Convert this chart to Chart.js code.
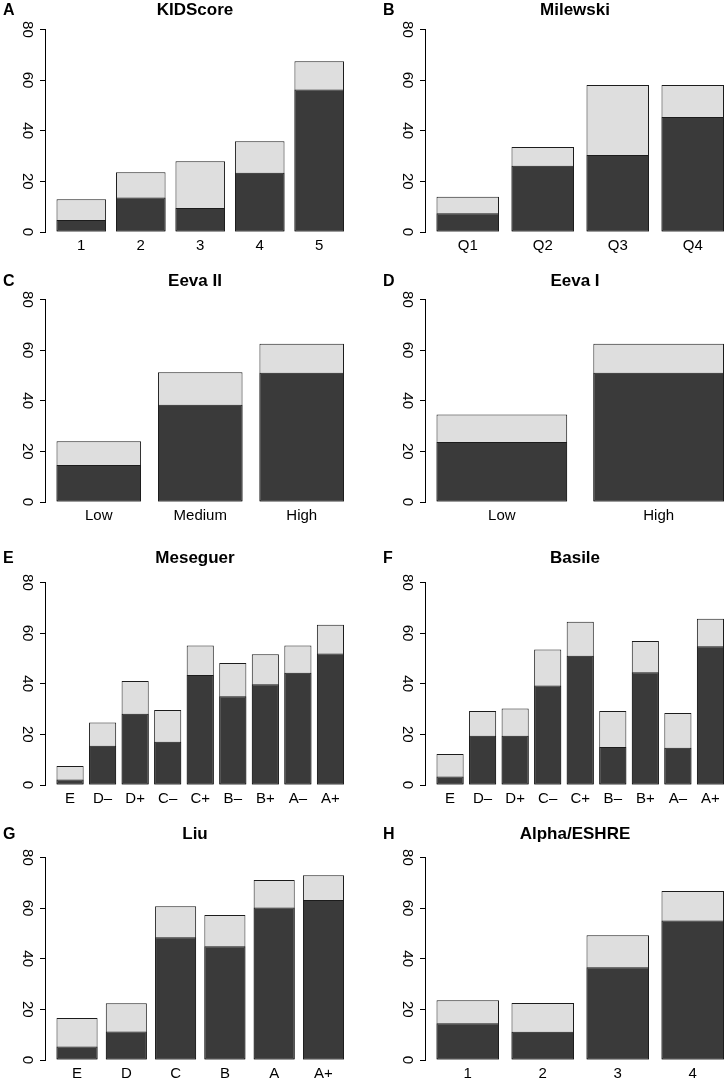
<!DOCTYPE html>
<html>
<head>
<meta charset="utf-8">
<title>Embryo scoring systems</title>
<script src="https://cdn.jsdelivr.net/npm/chart.js@4.4.1/dist/chart.umd.min.js"></script>
<style>
    html, body { margin: 0; padding: 0; background: #fff; }
    #figure { position: relative; width: 725px; height: 1082px; overflow: hidden; }
    .panel { position: absolute; width: 380px; }
    .tag, .title {
        position: absolute; top: 0; color: #000;
        font-family: "Liberation Sans", Arial, Helvetica, sans-serif;
        font-weight: bold; line-height: 20.4px; white-space: nowrap;
    }
    .tag { left: 3px; font-size: 16px; }
    .title { left: 0; width: 390px; text-align: center; font-size: 17px; }
</style>
</head>
<body>
<div id="figure"></div>
<script>
// Values (percent)
const kidscoreLabels = ['1', '2', '3', '4', '5'];
const kidscoreTotal = [12.9, 23.6, 27.9, 35.8, 67.4];
const kidscoreSub = [4.7, 13.6, 9.5, 23.4, 56.3];

const milewskiLabels = ['Q1', 'Q2', 'Q3', 'Q4'];
const milewskiTotal = [13.9, 33.6, 58.0, 58.0];
const milewskiSub = [7.4, 26.2, 30.4, 45.4];

const eeva2Labels = ['Low', 'Medium', 'High'];
const eeva2Total = [24.0, 51.2, 62.5];
const eeva2Sub = [14.6, 38.4, 51.0];

const eeva1Labels = ['Low', 'High'];
const eeva1Total = [34.6, 62.5];
const eeva1Sub = [23.7, 51.0];

const meseguerLabels = ['E', 'D–', 'D+', 'C–', 'C+', 'B–', 'B+', 'A–', 'A+'];
const meseguerTotal = [7.5, 24.7, 41.1, 29.6, 55.1, 48.2, 51.6, 55.1, 63.3];
const meseguerSub = [2.2, 15.5, 28.1, 17.1, 43.4, 35.0, 39.8, 44.3, 51.9];

const basileLabels = ['E', 'D–', 'D+', 'C–', 'C+', 'B–', 'B+', 'A–', 'A+'];
const basileTotal = [12.2, 29.2, 30.2, 53.5, 64.5, 29.2, 56.9, 28.4, 65.6];
const basileSub = [3.4, 19.4, 19.4, 39.3, 51.0, 15.0, 44.5, 14.7, 54.8];

const liuLabels = ['E', 'D', 'C', 'B', 'A', 'A+'];
const liuTotal = [16.6, 22.4, 60.7, 57.3, 71.1, 73.0];
const liuSub = [5.3, 11.3, 48.5, 44.9, 60.2, 63.2];

const alphaLabels = ['1', '2', '3', '4'];
const alphaTotal = [23.6, 22.5, 49.3, 66.7];
const alphaSub = [14.5, 11.2, 36.6, 55.1];

const yTicks = [0, 20, 40, 60, 80];

const panels = [
    { tag: 'A', title: 'KIDScore', labels: kidscoreLabels, total: kidscoreTotal, sub: kidscoreSub },
    { tag: 'B', title: 'Milewski', labels: milewskiLabels, total: milewskiTotal, sub: milewskiSub },
    { tag: 'C', title: 'Eeva II', labels: eeva2Labels, total: eeva2Total, sub: eeva2Sub },
    { tag: 'D', title: 'Eeva I', labels: eeva1Labels, total: eeva1Total, sub: eeva1Sub },
    { tag: 'E', title: 'Meseguer', labels: meseguerLabels, total: meseguerTotal, sub: meseguerSub },
    { tag: 'F', title: 'Basile', labels: basileLabels, total: basileTotal, sub: basileSub },
    { tag: 'G', title: 'Liu', labels: liuLabels, total: liuTotal, sub: liuSub },
    { tag: 'H', title: 'Alpha/ESHRE', labels: alphaLabels, total: alphaTotal, sub: alphaSub }
];

// Layout of the grid
const columnLeft = [0, 380];
const rowTop = [0, 271, 548, 824];
const titleGap = [9, 8, 14, 13];

const FONT = '"Liberation Sans", Arial, Helvetica, sans-serif';
const LIGHT = '#dedede';
const DARK = '#3a3a3a';
const EDGE = '#1c1c1c';

// barplot geometry: bar width 1, space 0.2
const barMid = i => 0.7 + 1.2 * i;

function xRange(n) {
    const lo = 0.2, hi = 1.2 * n;
    const ext = 0.04 * (hi - lo);
    return { min: lo - ext, max: hi + ext };
}

function addText(box, cls, text) {
    const el = document.createElement('div');
    el.className = cls;
    el.textContent = text;
    box.appendChild(el);
}

function buildPanel(p, idx) {
    const row = Math.floor(idx / 2);
    const col = idx % 2;
    const topPad = 20.4 + titleGap[row];
    const height = Math.round(topPad + 203 + 30);

    const box = document.createElement('div');
    box.className = 'panel';
    box.style.left = columnLeft[col] + 'px';
    box.style.top = rowTop[row] + 'px';
    box.style.height = height + 'px';

    const canvas = document.createElement('canvas');
    box.appendChild(canvas);
    addText(box, 'tag', p.tag);
    addText(box, 'title', p.title);
    document.getElementById('figure').appendChild(box);

    const range = xRange(p.labels.length);
    const tickFont = { family: FONT, size: 15 };

    new Chart(canvas, {
        type: 'bar',
        data: {
            datasets: [
                {
                    label: 'subset',
                    data: p.sub.map((v, i) => ({ x: barMid(i), y: v })),
                    backgroundColor: DARK,
                    order: 0
                },
                {
                    label: 'total',
                    data: p.total.map((v, i) => ({ x: barMid(i), y: v })),
                    backgroundColor: LIGHT,
                    order: 1
                }
            ]
        },
        options: {
            responsive: true,
            maintainAspectRatio: false,
            animation: false,
            layout: { padding: { left: 0, right: 24.5, top: topPad, bottom: 0 } },
            datasets: {
                bar: {
                    grouped: false,
                    categoryPercentage: 1,
                    barPercentage: 1 / 1.2,
                    borderColor: EDGE,
                    borderWidth: 1,
                    borderSkipped: false
                }
            },
            plugins: {
                legend: { display: false },
                tooltip: { enabled: false },
                title: { display: false }
            },
            scales: {
                x: {
                    type: 'linear',
                    min: range.min,
                    max: range.max,
                    bounds: 'data',
                    offset: false,
                    afterBuildTicks: axis => {
                        axis.ticks = p.labels.map((_, i) => ({ value: barMid(i) }));
                    },
                    afterFit: axis => { axis.height = 30; },
                    grid: { display: false, drawTicks: false, offset: false },
                    border: { display: false },
                    ticks: {
                        autoSkip: false,
                        maxRotation: 0,
                        padding: 5,
                        color: '#000',
                        font: tickFont,
                        callback: (v, i) => p.labels[i]
                    }
                },
                y: {
                    min: 0,
                    max: 80,
                    afterBuildTicks: axis => {
                        axis.ticks = yTicks.map(v => ({ value: v }));
                    },
                    afterFit: axis => { axis.width = 45; },
                    grid: { drawOnChartArea: false, drawTicks: true, tickLength: 5, color: '#000' },
                    border: { display: true, color: '#000', width: 1 },
                    ticks: {
                        minRotation: -90,
                        maxRotation: -90,
                        crossAlign: 'center',
                        padding: 4.5,
                        color: '#000',
                        font: tickFont
                    }
                }
            }
        }
    });
}

panels.forEach(buildPanel);
</script>
</body>
</html>
